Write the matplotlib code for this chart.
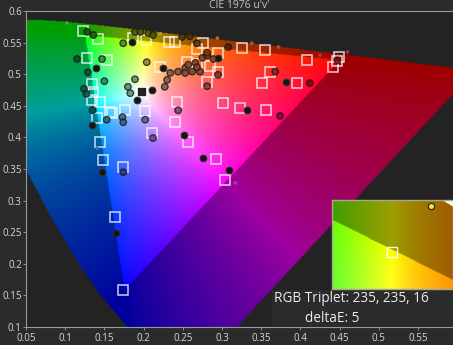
import numpy as np
import matplotlib
matplotlib.use("Agg")
import matplotlib.pyplot as plt
from matplotlib.path import Path
from matplotlib.patches import Rectangle

plt.rcParams['font.family'] = ['Open Sans', 'DejaVu Sans']

# spectral locus, CIE 1931 xy (380..700 nm)
locus_x = [0.1741, 0.1733, 0.1714, 0.1689, 0.1644, 0.1566, 0.1440, 0.1241, 0.1096, 0.0913,
           0.0687, 0.0454, 0.0235, 0.0082, 0.0039, 0.0139, 0.0389, 0.0743, 0.1547, 0.2296,
           0.3016, 0.3731, 0.4441, 0.5125, 0.5752, 0.6270, 0.6915, 0.7190, 0.7347]
locus_y = [0.0050, 0.0048, 0.0051, 0.0069, 0.0109, 0.0177, 0.0297, 0.0578, 0.0868, 0.1327,
           0.2007, 0.2950, 0.4127, 0.5384, 0.6548, 0.7502, 0.8120, 0.8338, 0.8059, 0.7543,
           0.6923, 0.6245, 0.5547, 0.4866, 0.4242, 0.3725, 0.3083, 0.2809, 0.2653]

# target patches (squares), u'v'
target_u = [0.123, 0.142, 0.128, 0.153, 0.134, 0.135, 0.134, 0.144, 0.141, 0.157,
            0.176, 0.202, 0.211, 0.144, 0.148, 0.174, 0.164, 0.174, 0.243, 0.301,
            0.323, 0.356, 0.240, 0.257, 0.292, 0.304, 0.240, 0.276, 0.268, 0.295,
            0.326, 0.355, 0.409, 0.442, 0.447, 0.449, 0.361, 0.351, 0.396, 0.295,
            0.281, 0.221, 0.187, 0.203, 0.255, 0.285, 0.268, 0.233, 0.160]
target_v = [0.568, 0.556, 0.526, 0.522, 0.485, 0.472, 0.459, 0.456, 0.431, 0.440,
            0.443, 0.442, 0.407, 0.393, 0.364, 0.353, 0.274, 0.159, 0.456, 0.455,
            0.447, 0.443, 0.424, 0.393, 0.366, 0.333, 0.551, 0.549, 0.540, 0.534,
            0.541, 0.538, 0.522, 0.511, 0.521, 0.527, 0.504, 0.486, 0.486, 0.504,
            0.488, 0.511, 0.557, 0.554, 0.519, 0.513, 0.516, 0.551, 0.438]
white_target = (0.198, 0.472)

# measured points (circles)
meas_u = [0.128, 0.136, 0.115, 0.147, 0.129, 0.150, 0.124, 0.127, 0.174, 0.189,
          0.196, 0.206, 0.212, 0.204, 0.189, 0.180, 0.183, 0.230, 0.227, 0.234,
          0.244, 0.253, 0.257, 0.266, 0.275, 0.281, 0.289, 0.272, 0.268, 0.262,
          0.253, 0.249, 0.259, 0.268, 0.281, 0.308, 0.447, 0.368, 0.412, 0.281,
          0.295, 0.244, 0.135, 0.153, 0.173, 0.174, 0.202, 0.212, 0.174, 0.374]
meas_v = [0.567, 0.562, 0.524, 0.524, 0.503, 0.489, 0.477, 0.469, 0.549, 0.567,
          0.567, 0.565, 0.562, 0.519, 0.492, 0.480, 0.470, 0.491, 0.480, 0.502,
          0.504, 0.510, 0.515, 0.518, 0.526, 0.530, 0.524, 0.504, 0.511, 0.504,
          0.502, 0.559, 0.560, 0.549, 0.534, 0.543, 0.522, 0.504, 0.486, 0.481,
          0.499, 0.443, 0.443, 0.428, 0.432, 0.424, 0.428, 0.399, 0.345, 0.434]
dark_u = [0.139, 0.185, 0.211, 0.192, 0.225, 0.295, 0.382, 0.134, 0.147, 0.165,
          0.332, 0.252, 0.276, 0.309]
dark_v = [0.510, 0.551, 0.475, 0.459, 0.510, 0.526, 0.488, 0.420, 0.345, 0.249,
          0.443, 0.404, 0.367, 0.348]
dot_u = [0.102, 0.221, 0.294, 0.338, 0.372, 0.425, 0.460, 0.317, 0.141]
dot_v = [0.581, 0.564, 0.557, 0.549, 0.543, 0.530, 0.535, 0.328, 0.383]

# zoomed detail for current patch
inset_target = (0.2039, 0.5524)
inset_meas = (0.2360, 0.5616)
rgb_triplet = (235, 235, 16)
delta_e = 5

M = np.array([[3.2406, -1.5372, -0.4986],
              [-0.9689, 1.8758, 0.0415],
              [0.0557, -0.2040, 1.0570]])


def xy_to_uv(x, y):
    x = np.asarray(x); y = np.asarray(y)
    d = -2 * x + 12 * y + 3
    return 4 * x / d, 9 * y / d


def uv_colors(u, v):
    u = np.asarray(u, float).ravel(); v = np.asarray(v, float).ravel()
    d = 6 * u - 16 * v + 12
    x = 9 * u / d
    y = 4 * v / d
    XYZ = np.vstack([x / y, np.ones_like(x), (1 - x - y) / y])
    rgb = M @ XYZ
    inside = (rgb >= 0).all(axis=0)
    rgb = np.clip(rgb, 0, None)
    rgb = rgb / rgb.max(axis=0)
    rgb = rgb ** 0.75
    rgb = np.where(inside, rgb, rgb * 0.62)
    return np.clip(rgb.T, 0, 1)


lu, lv = xy_to_uv(locus_x, locus_y)
locus_path = Path(np.column_stack([lu, lv]))


def diagram(u0, u1, v0, v1, nx, ny):
    uu, vv = np.meshgrid(np.linspace(u0, u1, nx), np.linspace(v0, v1, ny))
    rgb = uv_colors(uu, vv)
    inside = locus_path.contains_points(np.column_stack([uu.ravel(), vv.ravel()]))
    img = np.zeros((ny * nx, 4))
    img[:, :3] = rgb
    img[:, 3] = inside
    return img.reshape(ny, nx, 4)


bg = '#2b2b2b'
fig = plt.figure(figsize=(4.53, 3.45), dpi=100, facecolor=bg)
ax = fig.add_axes([26 / 453, 18 / 345, 427 / 453, 316 / 345])
ax.set_facecolor('#232323')
xmax = 0.05 + 427 / 784
ax.imshow(diagram(0.05, xmax, 0.1, 0.6, 520, 460), origin='lower',
          extent=(0.05, xmax, 0.1, 0.6), aspect='auto', interpolation='bilinear')
ax.set_xlim(0.05, xmax)
ax.set_ylim(0.1, 0.6)

ax.plot(target_u, target_v, 's', ms=7, mfc='none', mec='white', mew=1.1, alpha=0.8)
ax.plot(*white_target, 's', ms=7, mfc='#222222', mec='white', mew=1.2)

mc = uv_colors(meas_u, meas_v) * 0.5
ax.scatter(meas_u, meas_v, s=22, c=mc, edgecolors='#1b1b1b', linewidths=0.9, alpha=0.85, zorder=3)
ax.scatter(dark_u, dark_v, s=24, c='#151515', edgecolors='#333333', linewidths=0.7, zorder=3)
dc = np.clip(uv_colors(dot_u, dot_v) * 0.8 + 0.2, 0, 1)
ax.scatter(dot_u, dot_v, s=7, c=dc, linewidths=0, zorder=3)

ticks_x = np.arange(0.05, 0.56, 0.05)
ax.set_xticks(ticks_x)
ax.set_xticklabels(['%g' % round(t, 2) for t in ticks_x])
ticks_y = np.arange(0.1, 0.61, 0.05)
ax.set_yticks(ticks_y)
ax.set_yticklabels(['%g' % round(t, 2) for t in ticks_y])
ax.tick_params(colors='#999999', labelcolor='#d8d8d8', labelsize=7, length=2, width=0.6, pad=1)
ax.tick_params(axis='x', pad=2)
for s in ['left', 'bottom', 'top']:
    ax.spines[s].set_color('#9a9a9a')
    ax.spines[s].set_linewidth(0.8)
ax.spines['right'].set_visible(False)
ax.set_title("CIE 1976 u'v'", color='#c4c4c4', fontsize=7.5, pad=0.5)

# info panel
fig.add_artist(Rectangle((272 / 453, 18 / 345), 181 / 453, 37 / 345, transform=fig.transFigure,
                         facecolor=bg, edgecolor='none', zorder=5))
fig.text(274 / 453, 1 - 298 / 345, 'RGB Triplet: %d, %d, %d' % rgb_triplet, color='#ececec',
         fontsize=9.8, va='center', zorder=6)
fig.text(305 / 453, 1 - 318 / 345, 'deltaE: %d' % delta_e, color='#ececec',
         fontsize=9.8, va='center', zorder=6)

axi = fig.add_axes([332 / 453, 56 / 345, 121 / 453, 89 / 345], zorder=7)
iu0, iu1, iv0, iv1 = 0.154, 0.254, 0.5450, 0.5629
axi.imshow(diagram(iu0, iu1, iv0, iv1, 160, 120), origin='lower',
           extent=(iu0, iu1, iv0, iv1), aspect='auto', interpolation='bilinear')
axi.set_xlim(iu0, iu1)
axi.set_ylim(iv0, iv1)
axi.plot(*inset_target, 's', ms=7, mfc='none', mec='white', mew=1.0, alpha=0.9)
axi.plot(*inset_meas, 'o', ms=4.5, mfc='#f0e060', mec='#303010', mew=0.9)
axi.set_xticks([])
axi.set_yticks([])
for s in axi.spines.values():
    s.set_color('#a8a890')
    s.set_linewidth(1.0)

fig.savefig('out.png', dpi=100, facecolor=bg)
